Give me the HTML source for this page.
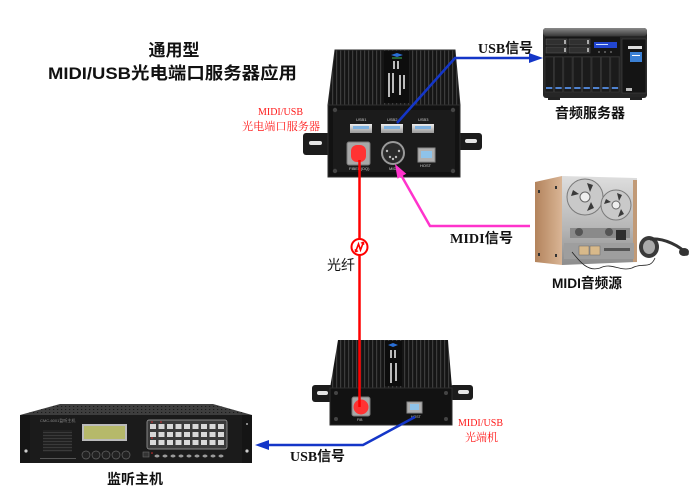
<!DOCTYPE html>
<html><head><meta charset="utf-8"><style>
html,body{margin:0;padding:0;background:#fff;}
svg{display:block;}
</style></head><body>
<svg width="700" height="495" viewBox="0 0 700 495" xmlns="http://www.w3.org/2000/svg">
<defs>
<pattern id="ribs" width="4" height="10" patternUnits="userSpaceOnUse">
<rect width="4" height="10" fill="#151515"/><rect x="0" width="1.2" height="10" fill="#3c3c3c"/>
</pattern>
<pattern id="grill" width="3" height="3" patternUnits="userSpaceOnUse">
<rect width="3" height="3" fill="#222"/><rect width="3" height="1" fill="#3a3a3a"/>
</pattern>
<pattern id="vent" width="4" height="3" patternUnits="userSpaceOnUse">
<rect width="4" height="3" fill="#3e3e3e"/><rect x="1" y="1" width="1.2" height="1" fill="#1a1a1a"/>
</pattern>
<linearGradient id="wood" x1="0" x2="1" y1="0" y2="0"><stop offset="0" stop-color="#b3835c"/><stop offset="1" stop-color="#d9b595"/></linearGradient>
<linearGradient id="silver" x1="0" y1="0" x2="0" y2="1"><stop offset="0" stop-color="#dedede"/><stop offset="0.6" stop-color="#b5b5b5"/><stop offset="1" stop-color="#8c8c8c"/></linearGradient>
<linearGradient id="nasTop" x1="0" y1="0" x2="0" y2="1"><stop offset="0" stop-color="#8a8a8a"/><stop offset="1" stop-color="#3a3a3a"/></linearGradient>
<linearGradient id="metal" x1="0" y1="0" x2="0" y2="1"><stop offset="0" stop-color="#eee"/><stop offset="1" stop-color="#999"/></linearGradient>
</defs>

<!-- Title -->
<g font-family="'Liberation Sans','Noto Sans CJK SC',sans-serif" font-weight="bold" fill="#111">
<text x="174" y="56" font-size="17" text-anchor="middle">通用型</text>
<text x="48" y="79" font-size="17" textLength="249" lengthAdjust="spacingAndGlyphs">MIDI/USB光电端口服务器应用</text>
</g>

<!-- red labels -->
<g font-family="'Liberation Serif','Noto Serif CJK SC',serif" fill="#ff1a1a" font-size="11">
<text x="258" y="115" textLength="45" lengthAdjust="spacingAndGlyphs">MIDI/USB</text>
<text x="242" y="130" textLength="78" lengthAdjust="spacingAndGlyphs">光电端口服务器</text>
<text x="458" y="426" textLength="45" lengthAdjust="spacingAndGlyphs">MIDI/USB</text>
<text x="465" y="441" textLength="33" lengthAdjust="spacingAndGlyphs">光端机</text>
</g>

<!-- ===== Top device ===== -->
<g>
<rect x="303" y="133" width="28" height="22" rx="3" fill="#1c1c1c"/>
<rect x="309" y="141" width="13" height="4" rx="2" fill="#e6e6e6"/>
<rect x="456" y="133" width="26" height="17" rx="3" fill="#1c1c1c"/>
<rect x="465" y="139" width="12" height="4" rx="2" fill="#e6e6e6"/>
<polygon points="335,50 455,50 460,105 328,105" fill="url(#ribs)"/>
<polygon points="335,50 455,50 460,105 328,105" fill="none" stroke="#2a2a2a" stroke-width="1"/>
<rect x="384" y="51" width="25" height="52" fill="#0d0d0d"/>
<path d="M391,55 l6,-2 l6,2 l-6,2z" fill="#2a6fd6"/>
<path d="M392,58 l10,0" stroke="#3c9a4a" stroke-width="1.2"/>
<g fill="#bbb">
<rect x="393" y="61" width="2" height="8"/><rect x="397" y="61" width="2" height="8"/>
<rect x="388" y="73" width="2" height="24"/><rect x="392" y="73" width="2" height="20"/>
<rect x="399" y="75" width="2" height="20"/><rect x="403" y="75" width="2" height="14"/>
</g>
<rect x="328" y="105" width="132" height="72" fill="#121212" stroke="#2e2e2e"/>
<rect x="333" y="110" width="122" height="62" fill="#1b1b1b"/>
<g fill="#444"><circle cx="335" cy="110" r="2.2"/><circle cx="453" cy="110" r="2.2"/><circle cx="335" cy="171" r="2.2"/><circle cx="453" cy="171" r="2.2"/></g>
<!-- USB ports -->
<g font-family="'Liberation Sans',sans-serif" font-size="4" fill="#ccc">
<text x="356" y="121">USB1</text><text x="387" y="121">USB2</text><text x="418" y="121">USB3</text>
<text x="349" y="170">FIBER(DQ)</text><text x="389" y="170">MIDI</text><text x="420" y="167">HOST</text>
</g>
<g>
<rect x="350" y="124" width="22" height="9" fill="url(#metal)"/><rect x="353" y="126" width="16" height="3" fill="#7fb2e0"/>
<rect x="381" y="124" width="22" height="9" fill="url(#metal)"/><rect x="384" y="126" width="16" height="3" fill="#7fb2e0"/>
<rect x="412" y="124" width="22" height="9" fill="url(#metal)"/><rect x="415" y="126" width="16" height="3" fill="#7fb2e0"/>
</g>
<rect x="347" y="142" width="23" height="23" rx="2" fill="#a8a8a8" stroke="#777"/>
<rect x="351" y="145" width="15" height="17" rx="6" fill="#ff3333"/>
<circle cx="393" cy="153" r="12" fill="#9a9a9a"/>
<circle cx="393" cy="153" r="10" fill="#2a2a2a"/>
<g fill="#bbb"><circle cx="387" cy="151" r="1.2"/><circle cx="399" cy="151" r="1.2"/><circle cx="390" cy="157" r="1.2"/><circle cx="396" cy="157" r="1.2"/><circle cx="393" cy="159" r="1.2"/></g>
<rect x="418" y="148" width="17" height="14" fill="#b0b0b0" stroke="#888"/>
<rect x="421" y="151" width="11" height="7" fill="#8ec3ea"/>
</g>

<!-- ===== Bottom device ===== -->
<g>
<rect x="312" y="385" width="21" height="17" rx="3" fill="#1c1c1c"/>
<rect x="317" y="391" width="11" height="4" rx="2" fill="#e6e6e6"/>
<rect x="450" y="385" width="23" height="15" rx="3" fill="#1c1c1c"/>
<rect x="458" y="390" width="11" height="4" rx="2" fill="#e6e6e6"/>
<polygon points="338,340 448,340 452,388 330,388" fill="url(#ribs)"/>
<rect x="385" y="341" width="17" height="45" fill="#0d0d0d"/>
<path d="M388,345 l5,-2 l5,2 l-5,2z" fill="#2a6fd6"/>
<g fill="#bbb"><rect x="390" y="350" width="2" height="8"/><rect x="394" y="350" width="2" height="8"/><rect x="390" y="363" width="2" height="20"/><rect x="395" y="363" width="2" height="18"/></g>
<rect x="330" y="388" width="122" height="37" fill="#121212" stroke="#2e2e2e"/>
<g fill="#444"><circle cx="336" cy="393" r="2"/><circle cx="446" cy="393" r="2"/><circle cx="336" cy="419" r="2"/><circle cx="446" cy="419" r="2"/></g>
<rect x="352" y="397" width="18" height="19" rx="2" fill="#a8a8a8" stroke="#777"/>
<circle cx="361" cy="407" r="7.5" fill="#ff3333"/>
<rect x="407" y="402" width="15" height="11" fill="#b0b0b0" stroke="#888"/>
<rect x="410" y="404" width="9" height="6" fill="#8ec3ea"/>
<g font-family="'Liberation Sans',sans-serif" font-size="3.5" fill="#ccc"><text x="357" y="421">FIB</text><text x="411" y="418">HOST</text></g>
</g>

<!-- ===== NAS server ===== -->
<g>
<rect x="543" y="28" width="104" height="70" rx="3" fill="#262626"/>
<rect x="543" y="28" width="104" height="8" rx="3" fill="url(#nasTop)"/>
<rect x="545" y="37" width="75" height="19" fill="#161616"/>
<g fill="#303030" stroke="#555" stroke-width="0.6">
<rect x="546" y="39" width="21" height="6"/><rect x="569" y="39" width="21" height="6"/>
<rect x="546" y="47" width="21" height="6"/><rect x="569" y="47" width="21" height="6"/>
</g>
<g fill="#aaa"><rect x="564" y="40" width="2" height="4"/><rect x="587" y="40" width="2" height="4"/><rect x="564" y="48" width="2" height="4"/><rect x="587" y="48" width="2" height="4"/></g>
<rect x="594" y="42" width="23" height="6" fill="#2246d0"/>
<rect x="596" y="44" width="12" height="1" fill="#cfe0ff"/>
<g fill="#666"><circle cx="599" cy="52" r="1"/><circle cx="605" cy="52" r="1"/><circle cx="611" cy="52" r="1"/></g>
<g fill="#1b1b1b" stroke="#3c3c3c" stroke-width="0.6">
<rect x="545" y="57" width="8.3" height="35"/><rect x="554.4" y="57" width="8.3" height="35"/><rect x="563.8" y="57" width="8.3" height="35"/><rect x="573.2" y="57" width="8.3" height="35"/>
<rect x="582.6" y="57" width="8.3" height="35"/><rect x="592" y="57" width="8.3" height="35"/><rect x="601.4" y="57" width="8.3" height="35"/><rect x="610.8" y="57" width="8.3" height="35"/>
</g>
<g fill="#4f82cf">
<rect x="546" y="87" width="6.3" height="2"/><rect x="555.4" y="87" width="6.3" height="2"/><rect x="564.8" y="87" width="6.3" height="2"/><rect x="574.2" y="87" width="6.3" height="2"/>
<rect x="583.6" y="87" width="6.3" height="2"/><rect x="593" y="87" width="6.3" height="2"/><rect x="602.4" y="87" width="6.3" height="2"/><rect x="611.8" y="87" width="6.3" height="2"/>
</g>
<rect x="622" y="39" width="24" height="54" fill="#141414" stroke="#444" stroke-width="0.6"/>
<rect x="628" y="46" width="14" height="3" fill="#ddd"/>
<rect x="630" y="52" width="12" height="10" fill="#3b80d4"/>
<rect x="632" y="55" width="8" height="1" fill="#fff"/>
<rect x="626" y="88" width="6" height="3" fill="#bbb"/>
<rect x="548" y="97" width="12" height="3" fill="#222"/><rect x="630" y="97" width="12" height="3" fill="#222"/>
</g>

<!-- ===== Tape deck ===== -->
<g>
<polygon points="535,182 562,176 562,265 535,262" fill="url(#wood)"/>
<g fill="#333"><rect x="538" y="190" width="2" height="3"/><rect x="538" y="253" width="2" height="3"/><rect x="555" y="186" width="2" height="3"/><rect x="555" y="254" width="2" height="3"/></g>
<polygon points="562,176 637,178 637,262 562,265" fill="url(#silver)"/>
<rect x="633" y="180" width="4" height="82" fill="#c19a77"/>
<circle cx="585" cy="197" r="18" fill="#c9c9c9" stroke="#7a7a7a" stroke-width="1"/>
<circle cx="585" cy="197" r="5" fill="#eee" stroke="#666"/>
<g fill="#3a3a3a"><path d="M587,183 l6,2 l-3,7z"/><path d="M571,196 l2,-6 l6,4z"/><path d="M587,211 l7,-3 l-3,-6z"/></g>
<circle cx="616" cy="205" r="15" fill="#c9c9c9" stroke="#7a7a7a" stroke-width="1"/>
<circle cx="616" cy="205" r="4" fill="#eee" stroke="#666"/>
<g fill="#3a3a3a"><path d="M617,193 l5,2 l-3,6z"/><path d="M604,204 l2,-5 l5,3z"/><path d="M618,217 l6,-3 l-3,-5z"/></g>
<rect x="570" y="228" width="60" height="10" fill="#8a8a8a"/>
<circle cx="579" cy="232" r="4" fill="#555"/><circle cx="609" cy="232" r="4" fill="#555"/>
<rect x="616" y="230" width="10" height="10" fill="#2e2e2e"/>
<rect x="564" y="243" width="70" height="16" fill="#9e9e9e"/>
<rect x="579" y="246" width="10" height="9" fill="#d8b98a" stroke="#666" stroke-width="0.5"/>
<rect x="590" y="246" width="10" height="9" fill="#d8b98a" stroke="#666" stroke-width="0.5"/>
<rect x="604" y="248" width="26" height="3" fill="#555"/>
<path d="M572,252 C580,262 588,272 600,268 C612,262 620,272 632,268 C642,262 650,270 655,258" fill="none" stroke="#222" stroke-width="0.8"/>
<ellipse cx="649" cy="247" rx="10" ry="11" fill="#3a3a3a"/>
<ellipse cx="649" cy="247" rx="6" ry="7" fill="#aaa"/>
<path d="M650,239 C665,238 680,246 688,255" fill="none" stroke="#333" stroke-width="3"/>
<ellipse cx="684" cy="252" rx="5" ry="4" fill="#333"/>
</g>

<!-- ===== Monitor host ===== -->
<g>
<polygon points="60,404 213,404 252,415 20,415" fill="url(#vent)"/>
<rect x="20" y="415" width="232" height="48" fill="#1b1b1b"/>
<rect x="20" y="415" width="10" height="48" fill="#151515"/>
<rect x="242" y="415" width="10" height="48" fill="#151515"/>
<circle cx="26" cy="451" r="1.6" fill="#ccc"/><circle cx="247" cy="451" r="1.6" fill="#ccc"/>
<circle cx="247" cy="424" r="1" fill="#aaa"/>
<text x="40" y="422" font-family="'Liberation Sans','Noto Sans CJK SC',sans-serif" font-size="4" fill="#888">CMC-6001监听主机</text>
<rect x="43" y="430" width="29" height="22" fill="url(#grill)"/>
<rect x="82" y="424" width="45" height="17" fill="#bbb"/>
<rect x="84" y="426" width="41" height="13" fill="#b6b96a"/>
<g fill="#222" stroke="#666" stroke-width="0.7"><circle cx="86" cy="455" r="4"/><circle cx="96" cy="455" r="4"/><circle cx="106" cy="455" r="4"/><circle cx="116" cy="455" r="4"/><circle cx="126" cy="455" r="4"/></g>
<rect x="40" y="458" width="36" height="1" fill="#555"/>
<rect x="147" y="420" width="80" height="29" rx="2" fill="#3a3a3a" stroke="#aaa" stroke-width="0.7"/>
<g fill="#d8d8d8">
<rect x="150" y="424" width="6" height="5"/><rect x="158.5" y="424" width="6" height="5"/><rect x="167" y="424" width="6" height="5"/><rect x="175.5" y="424" width="6" height="5"/><rect x="184" y="424" width="6" height="5"/><rect x="192.5" y="424" width="6" height="5"/><rect x="201" y="424" width="6" height="5"/><rect x="209.5" y="424" width="6" height="5"/><rect x="218" y="424" width="6" height="5"/>
<rect x="150" y="432" width="6" height="5"/><rect x="158.5" y="432" width="6" height="5"/><rect x="167" y="432" width="6" height="5"/><rect x="175.5" y="432" width="6" height="5"/><rect x="184" y="432" width="6" height="5"/><rect x="192.5" y="432" width="6" height="5"/><rect x="201" y="432" width="6" height="5"/><rect x="209.5" y="432" width="6" height="5"/><rect x="218" y="432" width="6" height="5"/>
<rect x="150" y="440" width="6" height="5"/><rect x="158.5" y="440" width="6" height="5"/><rect x="167" y="440" width="6" height="5"/><rect x="175.5" y="440" width="6" height="5"/><rect x="184" y="440" width="6" height="5"/><rect x="192.5" y="440" width="6" height="5"/><rect x="201" y="440" width="6" height="5"/><rect x="209.5" y="440" width="6" height="5"/><rect x="218" y="440" width="6" height="5"/>
</g>
<g fill="#e03030"><circle cx="152" cy="422" r="0.8"/><circle cx="161" cy="422" r="0.8"/><circle cx="152" cy="438" r="0.8"/><circle cx="152" cy="453" r="0.8"/></g>
<rect x="143" y="452" width="6" height="5" fill="#333" stroke="#777" stroke-width="0.5"/>
<g fill="#9a9a9a"><ellipse cx="157" cy="456" rx="2.5" ry="1.5"/><ellipse cx="165" cy="456" rx="2.5" ry="1.5"/><ellipse cx="173" cy="456" rx="2.5" ry="1.5"/><ellipse cx="181" cy="456" rx="2.5" ry="1.5"/><ellipse cx="189" cy="456" rx="2.5" ry="1.5"/><ellipse cx="197" cy="456" rx="2.5" ry="1.5"/><ellipse cx="205" cy="456" rx="2.5" ry="1.5"/><ellipse cx="213" cy="456" rx="2.5" ry="1.5"/><ellipse cx="221" cy="456" rx="2.5" ry="1.5"/></g>
</g>

<!-- ===== Connectors ===== -->
<!-- red fiber -->
<line x1="359.5" y1="160" x2="359.5" y2="407" stroke="#ff0000" stroke-width="2.5"/>
<circle cx="359.5" cy="247" r="8" fill="#fff" stroke="#ff0000" stroke-width="2"/>
<path d="M355.5,252 L358.5,244 L360.5,250 L363.5,242" fill="none" stroke="#ff0000" stroke-width="1.6"/>
<path d="M363.5,242 l-2.6,1.2 M363.5,242 l0.3,2.8 M355.5,252 l2.6,-1.2 M355.5,252 l-0.3,-2.8" stroke="#ff0000" stroke-width="1.2"/>

<!-- blue top -->
<polyline points="397,123 455,58 530,58" fill="none" stroke="#1436c8" stroke-width="2.5"/>
<polygon points="543,58 529,53 529,63" fill="#1436c8"/>

<!-- magenta -->
<polyline points="530,226 430,226 401,175" fill="none" stroke="#ff33cc" stroke-width="2.5"/>
<polygon points="395,164 406.3,173.7 397.5,178.7" fill="#ff33cc"/>

<!-- blue bottom -->
<polyline points="415,417 363,445 268,445" fill="none" stroke="#1436c8" stroke-width="2.5"/>
<polygon points="255,445 269,440 269,450" fill="#1436c8"/>

<!-- labels -->
<g font-family="'Liberation Serif','Noto Sans CJK SC',serif" font-weight="bold" fill="#111" font-size="14">
<text x="478" y="53" textLength="55" lengthAdjust="spacingAndGlyphs">USB信号</text>
<text x="450" y="243" textLength="63" lengthAdjust="spacingAndGlyphs">MIDI信号</text>
<text x="290" y="461" textLength="55" lengthAdjust="spacingAndGlyphs">USB信号</text>
</g>
<g font-family="'Liberation Sans','Noto Sans CJK SC',sans-serif" fill="#111" font-size="14">
<text x="327" y="270">光纤</text>
<text x="555" y="118" font-weight="bold" textLength="70" lengthAdjust="spacingAndGlyphs">音频服务器</text>
<text x="552" y="288" font-weight="bold" textLength="70" lengthAdjust="spacingAndGlyphs">MIDI音频源</text>
<text x="107" y="484" font-weight="bold" textLength="56" lengthAdjust="spacingAndGlyphs">监听主机</text>
</g>
</svg>
</body></html>
